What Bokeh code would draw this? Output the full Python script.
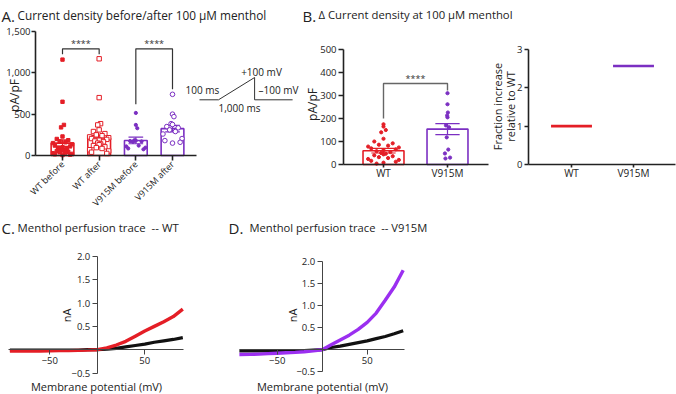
import math
from bokeh.plotting import figure
from bokeh.models import (Range1d, LinearAxis, FixedTicker, CustomJSTickFormatter,
                          NumeralTickFormatter, GlobalInlineStyleSheet)
from bokeh.embed import file_html
from bokeh.resources import INLINE
from bokeh.core.properties import value

# ---------------- data ----------------
A_categories = ["WT before", "WT after", "V915M before", "V915M after"]
A_means = [150, 212, 182, 325]
A_sem = [40, 32, 40, 40]
A_wt_before = [1160, 650, 370, 340, 230, 200, 185, 170, 160, 150, 135, 120, 110, 100,
               95, 85, 75, 70, 60, 55, 45, 40, 35, 28, 20, 15, 10, 5]
A_wt_after = [1170, 700, 385, 370, 310, 290, 265, 250, 240, 225, 215, 205, 195, 185,
              175, 165, 150, 140, 130, 120, 105, 95, 85, 70, 55, 40, 25]
A_v915m_before = [515, 370, 330, 185, 180, 175, 170, 165, 120, 110, 95, 85, 75]
A_v915m_after = [740, 500, 470, 385, 375, 350, 335, 310, 290, 260, 205, 180, 160, 150]
A_bracket_top = 1290
A_bracket_legs = [[1225, 1225], [620, 800]]

B_categories = ["WT", "V915M"]
B_means = [60, 154]
B_sem = [10, 24]
B_wt = [175, 165, 150, 140, 112, 100, 92, 86, 82, 78, 74, 70, 66, 62, 58, 54, 50, 47,
        44, 40, 36, 32, 28, 24, 20, 16, 12, 8, 4]
B_v915m = [310, 262, 226, 213, 205, 170, 162, 118, 65, 48, 30, 26]
B_bracket_top = 352
B_bracket_legs = [200, 322]

F_categories = ["WT", "V915M"]
F_fraction = [1.0, 2.57]

ramp_x = [0, 1, 2.9, 2.9, 4.9]
ramp_mv = [-100, -100, 100, -100, -100]

trace_mv = [-92, -80, -70, -60, -50, -40, -30, -20, -10, 0, 10, 20, 30, 40, 50, 60, 70, 80, 90]
wt_control = [-0.01, -0.01, -0.01, -0.01, -0.01, -0.01, -0.01, -0.01, 0.0, 0.0,
              0.01, 0.03, 0.06, 0.09, 0.12, 0.16, 0.19, 0.22, 0.26]
wt_menthol = [-0.03, -0.03, -0.03, -0.03, -0.025, -0.02, -0.02, -0.015, -0.01, 0.0,
              0.04, 0.10, 0.18, 0.29, 0.40, 0.50, 0.60, 0.71, 0.87]
v915m_control = [-0.03, -0.03, -0.03, -0.03, -0.03, -0.03, -0.025, -0.02, -0.01, 0.0,
                 0.05, 0.08, 0.12, 0.16, 0.20, 0.25, 0.30, 0.36, 0.43]
v915m_menthol = [-0.11, -0.105, -0.1, -0.09, -0.08, -0.07, -0.06, -0.045, -0.025, 0.0,
                 0.11, 0.22, 0.33, 0.46, 0.62, 0.83, 1.12, 1.42, 1.80]

# ---------------- styling ----------------
RED = "#e41e26"
PURPLE = "#7b2fc2"
VIOLET = "#9b2ff0"
INK = "#222222"
FONT = "Open Sans"
W, H = 676, 394

p = figure(width=W, height=H, x_range=Range1d(0, W), y_range=Range1d(H, 0),
           x_axis_type=None, y_axis_type=None, toolbar_location=None,
           output_backend="svg", min_border=0, outline_line_color=None)
p.stylesheets = [GlobalInlineStyleSheet(css="html, body { margin: 0 !important; padding: 0; overflow: hidden; }")]


def mk_range(v1, p1, v2, p2, P0, P1):
    s = (p2 - p1) / (v2 - v1)
    f = lambda P: v1 + (P - p1) / s
    return Range1d(start=f(P0), end=f(P1)), f


def xr(v1, p1, v2, p2):
    return mk_range(v1, p1, v2, p2, 0, W)


def yr(v1, p1, v2, p2):
    return mk_range(v1, p1, v2, p2, H, 0)


rxA, fxA = xr(1, 62, 4, 172)
ryA, fyA = yr(0, 155, 1500, 31)
rxB, fxB = xr(1, 383, 2, 447)
ryB, fyB = yr(0, 164, 500, 49)
rxF, fxF = xr(1, 571, 2, 633)
ryF, fyF = yr(0, 164, 3, 49)
rxR, fxR = xr(0, 199, 1, 218)
ryR, fyR = yr(-100, 99.3, 100, 77)
rxC, fxC = xr(-50, 49.3, 50, 144.3)
ryC, fyC = yr(0, 349.2, 2, 256)
rxD, fxD = xr(-50, 276.7, 50, 366.7)
ryD, fyD = yr(0, 349.2, 2, 261)

p.extra_x_ranges = {"xA": rxA, "xB": rxB, "xF": rxF, "xR": rxR, "xC": rxC, "xD": rxD}
p.extra_y_ranges = {"yA": ryA, "yB": ryB, "yF": ryF, "yR": ryR, "yC": ryC, "yD": ryD}


def style_axis(ax, size="9.5px", color=INK, lw=1.4, tick_out=4, standoff=2):
    ax.axis_line_color = color
    ax.axis_line_width = lw
    ax.major_tick_line_color = color
    ax.major_tick_line_width = lw
    ax.major_tick_out = tick_out
    ax.major_tick_in = 0
    ax.minor_tick_line_color = None
    ax.major_label_text_font = FONT
    ax.major_label_text_font_size = size
    ax.major_label_text_color = INK
    ax.major_label_standoff = standoff
    ax.axis_label = None
    return ax


def add_axis(side, xname, yname, loc, bounds, ticks, formatter=None, overrides=None, **kw):
    ax = LinearAxis(x_range_name=xname, y_range_name=yname, fixed_location=loc,
                    bounds=bounds, ticker=FixedTicker(ticks=ticks))
    if formatter is not None:
        ax.formatter = formatter
    if overrides is not None:
        ax.major_label_overrides = overrides
    style_axis(ax, **kw)
    p.add_layout(ax, side)
    return ax


def jitter(vals, spread):
    order = sorted(range(len(vals)), key=lambda i: -vals[i])
    pattern = [0.0, -0.6, 0.6, -0.3, 0.3, -1.0, 1.0, -0.8, 0.8, 0.0, -0.45, 0.45, -0.15, 0.15]
    offs = [0.0] * len(vals)
    for r, i in enumerate(order):
        if r < 4:
            offs[i] = [0.0, 0.0, 0.15, -0.15][r] * spread
        else:
            offs[i] = pattern[(r - 4) % len(pattern)] * spread
    return offs


def txt(x, y, s, size="10.5px", align="left", baseline="alphabetic", angle=0.0, color=INK, **kw):
    p.text(x=[x], y=[y], text=[s], text_font=value(FONT), text_font_size=size,
           text_align=align, text_baseline=baseline, angle=angle, text_color=color, **kw)


def error_bars(xs, means, sems, colors, cap, xname, yname, lw=1.2):
    lo = [m - s for m, s in zip(means, sems)]
    hi = [m + s for m, s in zip(means, sems)]
    kw = dict(x_range_name=xname, y_range_name=yname, line_width=lw)
    p.segment(x0=xs, y0=lo, x1=xs, y1=hi, color=colors, **kw)
    p.segment(x0=[x - cap for x in xs], y0=hi, x1=[x + cap for x in xs], y1=hi, color=colors, **kw)
    p.segment(x0=[x - cap for x in xs], y0=lo, x1=[x + cap for x in xs], y1=lo, color=colors, **kw)


# ---------------- titles ----------------
NB = "\u00a0"
txt(1, 15, "A.", size="15px")
txt(17, 14, "Current density before/after 100 \u03bcM menthol", size="11.8px")
txt(302, 15, "B.", size="15px")
txt(318, 14, "\u0394 Current density at 100 \u03bcM menthol", size="11.3px")
txt(1, 227, "C.", size="15px")
txt(17, 227, "Menthol perfusion trace" + NB + NB + "-- WT", size="11.4px")
txt(228, 227, "D.", size="15px")
txt(249, 227, "Menthol perfusion trace" + NB + NB + "-- V915M", size="11.2px")

# ---------------- panel A ----------------
A_x = [i + 1 for i in range(len(A_categories))]
A_colors = [RED, RED, PURPLE, PURPLE]
p.vbar(x=A_x, top=A_means, bottom=0, width=0.62, fill_color=None, line_color=A_colors,
       line_width=1.6, x_range_name="xA", y_range_name="yA")
error_bars(A_x, A_means, A_sem, A_colors, 0.2, "xA", "yA")

A_sets = [A_wt_before, A_wt_after, A_v915m_before, A_v915m_after]
A_markers = ["square", "square", "circle", "circle"]
A_filled = [True, False, True, False]
A_sizes = [3.4, 4.4, 3.2, 4.6]
for k, vals in enumerate(A_sets):
    offs = jitter(vals, 0.26)
    xs = [A_x[k] + o for o in offs]
    p.scatter(x=xs, y=vals, marker=A_markers[k], size=A_sizes[k],
              fill_color=A_colors[k] if A_filled[k] else "white",
              line_color=A_colors[k], line_width=1.0,
              x_range_name="xA", y_range_name="yA")

for (i0, i1), legs in zip([(1, 2), (3, 4)], A_bracket_legs):
    p.line(x=[i0, i0, i1, i1], y=[legs[0], A_bracket_top, A_bracket_top, legs[1]],
           line_color="#333333", line_width=1.2, x_range_name="xA", y_range_name="yA")
    p.text(x=[(i0 + i1) / 2], y=[A_bracket_top], text=["****"], text_font=value(FONT),
           text_font_size="9px", text_align="center", text_baseline="bottom",
           text_color="#333333", y_offset=1, x_range_name="xA", y_range_name="yA")

add_axis("left", "xA", "yA", fxA(35), (0, 1500), [0, 500, 1000, 1500],
         formatter=NumeralTickFormatter(format="0,0"), tick_out=4, standoff=1, lw=1.6)
axA = add_axis("below", "xA", "yA", 0, (fxA(35), fxA(196)), A_x,
               overrides={x: c for x, c in zip(A_x, A_categories)}, size="9px",
               tick_out=5, standoff=2, lw=1.6)
axA.major_label_orientation = math.pi / 4
txt(14, 95, "pA/pF", size="12px", align="center", baseline="middle", angle=math.pi / 2)

# ---------------- ramp protocol inset ----------------
p.line(x=ramp_x, y=ramp_mv, line_color="#333333", line_width=1.0,
       x_range_name="xR", y_range_name="yR")
txt(202, 89.5, "100 ms", size="10px", align="center", baseline="middle")
txt(261, 71, "+100 mV", size="10px", align="center", baseline="middle")
txt(278, 89.5, "\u2013100 mV", size="10px", align="center", baseline="middle")
txt(239, 107.5, "1,000 ms", size="10px", align="center", baseline="middle")

# ---------------- panel B (delta current density) ----------------
B_x = [i + 1 for i in range(len(B_categories))]
B_colors = [RED, PURPLE]
p.vbar(x=B_x, top=B_means, bottom=0, width=0.64, fill_color=None, line_color=B_colors,
       line_width=1.6, x_range_name="xB", y_range_name="yB")
error_bars(B_x, B_means, B_sem, B_colors, 0.19, "xB", "yB")
for k, (vals, spread) in enumerate([(B_wt, 0.24), (B_v915m, 0.04)]):
    offs = jitter(vals, spread)
    p.scatter(x=[B_x[k] + o for o in offs], y=vals, marker="circle", size=3.2,
              fill_color=B_colors[k], line_color=B_colors[k],
              x_range_name="xB", y_range_name="yB")
p.line(x=[1, 1, 2, 2], y=[B_bracket_legs[0], B_bracket_top, B_bracket_top, B_bracket_legs[1]],
       line_color="#666666", line_width=1.4, x_range_name="xB", y_range_name="yB")
p.text(x=[1.5], y=[B_bracket_top], text=["****"], text_font=value(FONT),
       text_font_size="9px", text_align="center", text_baseline="bottom",
       text_color="#333333", y_offset=1, x_range_name="xB", y_range_name="yB")
add_axis("left", "xB", "yB", fxB(343), (0, 500), [0, 100, 200, 300, 400, 500],
         tick_out=5, standoff=2, lw=1.6)
add_axis("below", "xB", "yB", 0, (fxB(343), fxB(488)), B_x,
         overrides={x: c for x, c in zip(B_x, B_categories)}, size="10px",
         tick_out=3, standoff=-2, lw=1.6)
txt(312, 104, "pA/pF", size="12px", align="center", baseline="middle", angle=math.pi / 2)

# ---------------- panel B (fraction increase) ----------------
F_x = [i + 1 for i in range(len(F_categories))]
p.segment(x0=[x - 0.33 for x in F_x], x1=[x + 0.33 for x in F_x], y0=F_fraction,
          y1=F_fraction, line_color=[RED, PURPLE], line_width=2.6,
          x_range_name="xF", y_range_name="yF")
add_axis("left", "xF", "yF", fxF(528), (0, 3), [0, 1, 2, 3], tick_out=4, standoff=2, lw=1.6)
add_axis("below", "xF", "yF", 0, (fxF(528), fxF(675)), F_x,
         overrides={x: c for x, c in zip(F_x, F_categories)}, size="10px",
         tick_out=3, standoff=-2, lw=1.6)
txt(497, 106, "Fraction increase", size="11px", align="center", baseline="middle",
    angle=math.pi / 2)
txt(510, 106, "relative to WT", size="11px", align="center", baseline="middle",
    angle=math.pi / 2)

# ---------------- panels C and D (traces) ----------------
y_fmt = "return tick == 0 ? '' : (tick < 0 ? '\u2212' : '') + Math.abs(tick).toFixed(1);"
x_fmt = "return (tick < 0 ? '\u2212' : '') + Math.abs(tick);"
for xname, yname, ctrl, ment, col, xb in [("xC", "yC", wt_control, wt_menthol, RED, (-94, 91)),
                                          ("xD", "yD", v915m_control, v915m_menthol, VIOLET, (-92, 91))]:
    p.line(x=trace_mv, y=ctrl, line_color="#111111", line_width=3.2,
           x_range_name=xname, y_range_name=yname)
    p.line(x=trace_mv, y=ment, line_color=col, line_width=3.4,
           x_range_name=xname, y_range_name=yname)
    add_axis("left", xname, yname, 0, (-0.5, 2.0), [-0.5, 0, 0.5, 1.0, 1.5, 2.0],
             formatter=CustomJSTickFormatter(code=y_fmt), color="#444444", lw=1.0,
             tick_out=5, standoff=2)
    add_axis("below", xname, yname, 0, xb, [-50, 50],
             formatter=CustomJSTickFormatter(code=x_fmt), color="#444444", lw=1.0,
             tick_out=5, standoff=2)

txt(66, 315, "nA", size="11px", align="center", baseline="middle", angle=math.pi / 2)
txt(96, 386, "Membrane potential (mV)", size="11px", align="center", baseline="middle")
txt(292, 315, "nA", size="11px", align="center", baseline="middle", angle=math.pi / 2)
txt(322, 386, "Membrane potential (mV)", size="11px", align="center", baseline="middle")

open("out.html", "w").write(file_html(p, INLINE))
